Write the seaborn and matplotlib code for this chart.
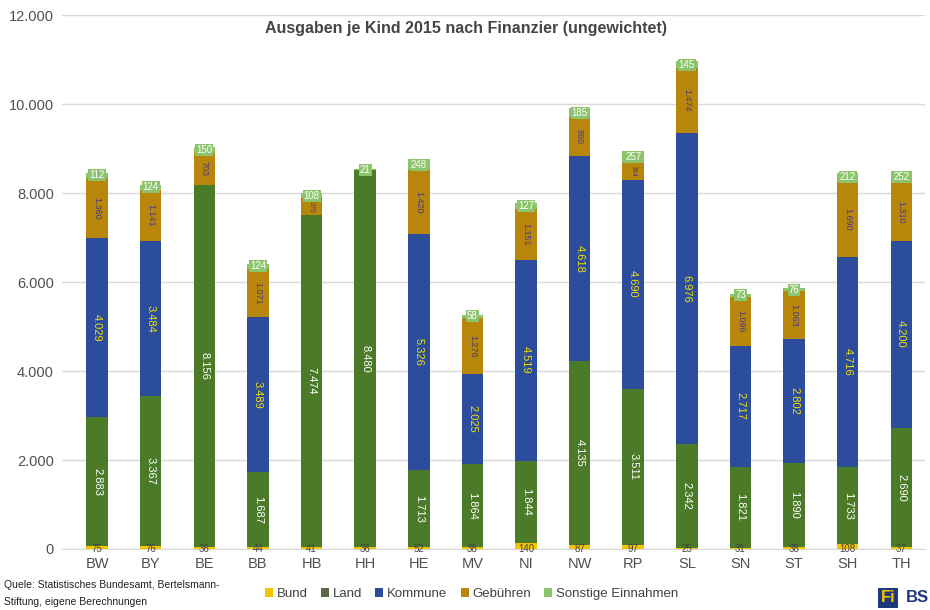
import numpy as np
import pandas as pd
import matplotlib
matplotlib.use("Agg")
import matplotlib.pyplot as plt
from matplotlib.patches import Patch
import seaborn as sns

# Daten
laender = ["BW", "BY", "BE", "BB", "HB", "HH", "HE", "MV", "NI", "NW", "RP", "SL", "SN", "ST", "SH", "TH"]
bund = [75, 76, 36, 44, 41, 36, 52, 38, 140, 87, 97, 25, 31, 38, 108, 37]
land = [2883, 3367, 8156, 1687, 7474, 8480, 1713, 1864, 1844, 4135, 3511, 2342, 1821, 1890, 1733, 2690]
kommune = [4029, 3484, 0, 3489, 0, 0, 5326, 2025, 4519, 4618, 4690, 6976, 2717, 2802, 4716, 4200]
gebuehren = [1360, 1141, 703, 1071, 376, 0, 1420, 1276, 1151, 880, 384, 1474, 1096, 1063, 1690, 1310]
sonstige = [112, 124, 150, 124, 108, 21, 248, 58, 127, 185, 257, 145, 73, 76, 212, 252]
yticks = [0, 2000, 4000, 6000, 8000, 10000, 12000]

farben = {
    "Bund": "#f2c500",
    "Land": "#4b7a28",
    "Kommune": "#2c4c9c",
    "Gebühren": "#b8860b",
    "Sonstige Einnahmen": "#8cc46c",
}


def fmt(v):
    return f"{v:,}".replace(",", ".")


sns.set_style("white")
plt.rcParams["font.family"] = ["Liberation Sans", "DejaVu Sans"]

df = pd.DataFrame({"Land_": laender, "Bund": bund, "Land": land, "Kommune": kommune,
                   "Gebühren": gebuehren, "Sonstige Einnahmen": sonstige})
reihen = ["Bund", "Land", "Kommune", "Gebühren", "Sonstige Einnahmen"]
cum = df[reihen].cumsum(axis=1)

fig = plt.figure(figsize=(9.3, 6.1), dpi=100)
ax = fig.add_axes([0.067, 0.1, 0.928, 0.875])

# gestapelt: von oben nach unten zeichnen
for r in reversed(reihen):
    sns.barplot(x=df["Land_"], y=cum[r], color=farben[r], width=0.4, ax=ax,
                saturation=1, edgecolor="none", linewidth=0, zorder=3)

# Beschriftungen
for i in range(len(laender)):
    ax.text(i, 0, str(bund[i]), ha="center", va="center", fontsize=7, color="#444444", zorder=5)
    if land[i] > 0:
        ax.text(i, bund[i] + land[i] / 2, fmt(land[i]), ha="center", va="center",
                rotation=270, fontsize=8, color="white", zorder=5)
    if kommune[i] > 0:
        ax.text(i, cum["Land"][i] + kommune[i] / 2, fmt(kommune[i]), ha="center", va="center",
                rotation=270, fontsize=8, color="#f2e200", zorder=5)
    if gebuehren[i] > 0:
        gs = 6.5 if gebuehren[i] > 600 else 5
        ax.text(i, cum["Kommune"][i] + gebuehren[i] / 2, fmt(gebuehren[i]), ha="center", va="center",
                rotation=270, fontsize=gs, color="#4a3a8a", zorder=5)
    ax.text(i, cum["Gebühren"][i] + sonstige[i] / 2, str(sonstige[i]), ha="center", va="center",
            fontsize=7, color="white", zorder=6,
            bbox=dict(boxstyle="square,pad=0.1", facecolor=farben["Sonstige Einnahmen"], edgecolor="none"))

ax.set_ylim(0, 12000)
ax.set_xlim(-0.65, 15.45)
ax.set_yticks(yticks)
ax.set_yticklabels([fmt(v) for v in yticks], fontsize=10.5, color="#505050")
ax.tick_params(axis="x", labelsize=10.5, colors="#505050", length=0, pad=6)
ax.tick_params(axis="y", length=0, pad=6)
ax.set_xlabel("")
ax.set_ylabel("")
ax.grid(axis="y", color="#d9d9d9", linewidth=1, zorder=0)
for s in ["left", "right", "top"]:
    ax.spines[s].set_visible(False)
ax.spines["bottom"].set_color("#d9d9d9")

fig.text(0.501, 0.954, "Ausgaben je Kind 2015 nach Finanzier (ungewichtet)", ha="center", va="center",
         fontsize=11.5, fontweight="bold", color="#454545")

handles = [Patch(facecolor=farben[r], edgecolor="none") for r in reihen]
handles[1] = Patch(facecolor="#5a6a4a", edgecolor="none")
fig.legend(handles, reihen, loc="center left", bbox_to_anchor=(0.272, 0.026), ncol=5, frameon=False,
           fontsize=9.5, handlelength=0.6, handleheight=0.7, handletextpad=0.3, columnspacing=1.0,
           labelcolor="#404040")

fig.text(0.004, 0.041, "Quele: Statistisches Bundesamt, Bertelsmann-", fontsize=7.5, color="#202020", va="center")
fig.text(0.004, 0.013, "Stiftung, eigene Berechnungen", fontsize=7.5, color="#202020", va="center")

fig.text(0.947, 0.02, "Fi", fontsize=12, fontweight="bold", color="#f2c500", va="center", ha="left",
         bbox=dict(boxstyle="square,pad=0.15", facecolor="#1f3a7a", edgecolor="none"))
fig.text(0.974, 0.02, "BS", fontsize=12, fontweight="bold", color="#1f3a7a", va="center", ha="left")

fig.savefig("out.png", dpi=100)
